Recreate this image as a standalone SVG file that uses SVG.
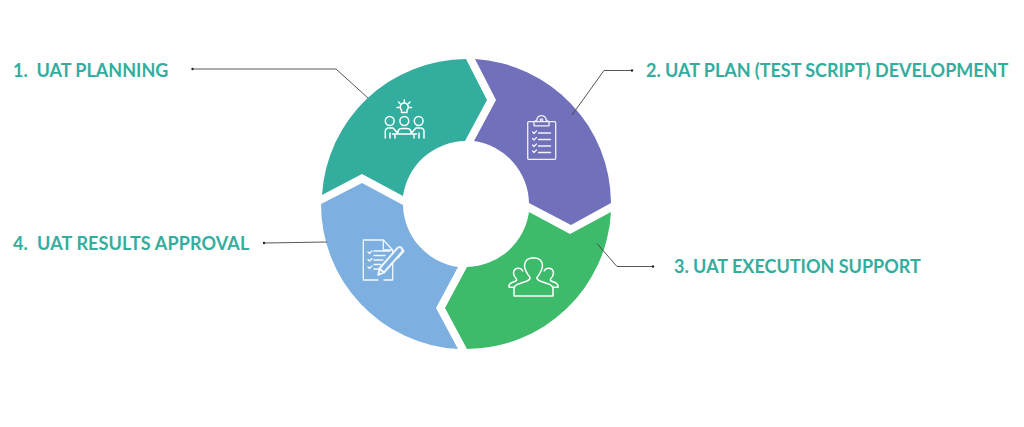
<svg xmlns="http://www.w3.org/2000/svg" width="1024" height="427" viewBox="0 0 1024 427">
<style>
.lbl{font-family:"Lato","Liberation Sans",sans-serif;font-weight:700;font-size:18px;fill:#33ae9e;white-space:pre}
.lead{fill:none;stroke:#444;stroke-width:.9}
.ic{fill:none;stroke:#fff;stroke-width:1.5;stroke-linecap:round;stroke-linejoin:round}
.ict{fill:none;stroke:#fff;stroke-width:1.3;stroke-linejoin:round;stroke-linecap:round;opacity:.9}
</style>
<rect width="1024" height="427" fill="#fff"/>
<g id="node-1">
<path fill="#33ae9e" d="M322 195A145 145 0 0 1 466 59L487 100L465 141A64 64 0 0 0 403 196L362 174Z"/>
<g class="ic">
<circle cx="389.7" cy="121" r="4.4"/><circle cx="404.3" cy="121" r="4.4"/><circle cx="418.7" cy="121" r="4.4"/>
<path d="M385.3 138V131.5Q385.3 128 389 128H393L398 133.5M424 138V131.500Q424 128 420 128H416L411 133.500M398 131Q399 128.500 402 128.500H407Q410 128.500 411 131V134H398ZM392.500 134H416.500M395 134V138M414 134V138M390 138V133M419 138V133"/>
<path d="M401.500 110Q399.500 108 400.500 105.500A4 4 0 0 1 408 105.500Q409 108 407 110V112.500H401.500Z"/>
<path d="M404.300 100V102.500M398.500 102L400 103.500M410 102L408.500 103.500M397 107.500H399M409.500 107.500H411.500"/>
</g>
</g>
<g id="node-2">
<path fill="#7070bb" d="M475 59A145 145 0 0 1 611 203L571 225L529 203A64 64 0 0 0 474 141L496 100Z"/>
<g class="ict">
<rect x="527.700" y="121.700" width="28" height="37.600" rx="1"/>
<path d="M534 121.700V125.800H549V121.700L546 120V119Q545 115.700 541.500 115.700Q538 115.700 537 119V120Z"/>
<circle cx="541.500" cy="120" r="1.200"/>
<path d="M538.500 133H550.500M538.500 139.500H550.500M538.500 146H550.500M538.500 152.500H550.500" stroke-width="1.400"/>
<path d="M532.500 132L534 133.500L536.500 131M532.500 138.500L534 140L536.500 137.500M532.500 145L534 146.500L536.500 144M532.500 151L534 152.500L536.500 150"/>
</g>
</g>
<g id="node-3">
<path fill="#3dbb6a" d="M611 212A145 145 0 0 1 467 349L445 308L467 267A64 64 0 0 0 529 212L570 234Z"/>
<g class="ic">
<path d="M514 296V289Q514 285 520 283.500L527 281Q530.500 279.500 530 277.500Q525 271 524.500 266Q524.500 258 533.500 257.700Q542.500 258 542.500 266Q542 271 537 277.500Q536.500 279.500 540 281L547 283.500Q553 285 553 289V296Z"/>
<path d="M514 287.300H509V285.500Q509.500 283.500 512 282.500L516 281Q517 280 516.500 279Q513.500 276 513.500 273Q514 268.300 518.300 268.300Q521.500 268.300 522.800 271"/>
<path d="M553 287.300H558V285.500Q557.500 283.500 555 282.500L551 281Q550 280 550.500 279Q553.500 276 553.500 273Q553 268.300 548.700 268.300Q545.500 268.300 544.200 271"/>
</g>
</g>
<g id="node-4">
<path fill="#7db0e0" d="M458 349A145 145 0 0 1 321 204L362 183L403 205A64 64 0 0 0 458 267L436 308Z"/>
<g class="ict">
<path d="M378 280H363.300V240H383.300L392.700 250V254M383.300 240V250H392.700M392.700 263V280H384"/>
<path d="M374 251H390M374 255.500H385M374 260H383M374 264.500H381M374 269H379" stroke-width="1.400"/>
<path d="M368 252L369.500 253.500L372 251M368 259.500L369.500 261L372 258.500M368 267L369.500 268.500L372 266"/>
<path d="M378.300 275L379.500 268.500L397 248.500Q399.500 246 401.500 248Q403.500 250 401.500 252.500L384 272.500ZM379.500 268.500L384 272.500" stroke-width="1.900"/>
<path d="M402 249L404 251L398 258"/>
</g>
</g>
<g id="connectors">
<path class="lead" d="M192 69H336L368 98"/><circle cx="192.500" cy="69" r="1.200" fill="#222"/>
<path class="lead" d="M632 70.500H604L572 115"/><circle cx="632" cy="70.500" r="1.200" fill="#222"/>
<path class="lead" d="M653 266.500H617L597 243.500"/><circle cx="653" cy="266.500" r="1.200" fill="#222"/>
<path class="lead" d="M264 243L327 242"/><circle cx="264" cy="243" r="1.200" fill="#222"/>
</g>
<g id="labels">
<text class="lbl" x="13" y="76.500">1.  UAT PLANNING</text>
<text class="lbl" x="646" y="76.500" letter-spacing="-0.03">2. UAT PLAN (TEST SCRIPT) DEVELOPMENT</text>
<text class="lbl" x="674" y="272.500">3. UAT EXECUTION SUPPORT</text>
<text class="lbl" x="13" y="249.500" letter-spacing="0.13">4.  UAT RESULTS APPROVAL</text>
</g>
</svg>
